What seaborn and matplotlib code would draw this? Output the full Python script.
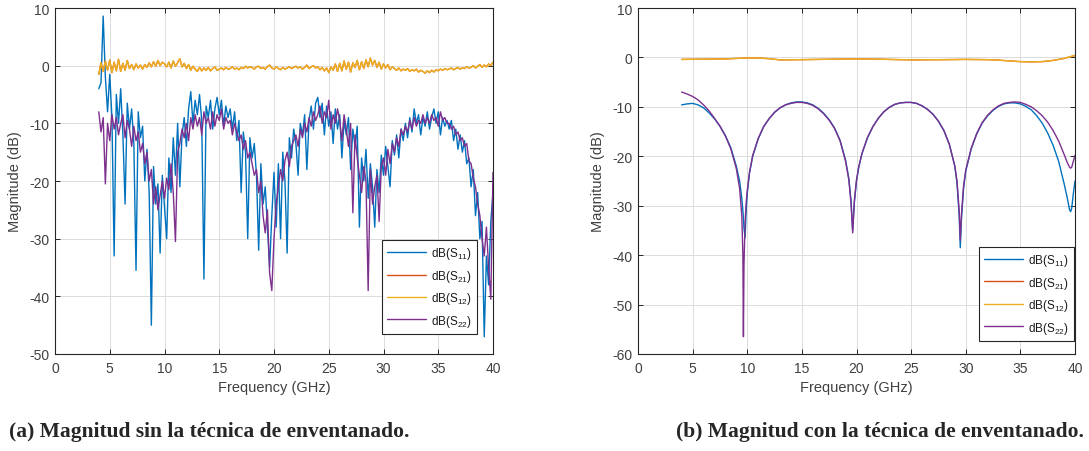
import numpy as np
import pandas as pd
import matplotlib
matplotlib.use("Agg")
import matplotlib.pyplot as plt
import seaborn as sns

# ---------------- data: left panel (without windowing) ----------------
freq_left = np.round(np.linspace(4.0, 40.0, 181), 2)  # 0.2 GHz sampling grid

s11_left = [
    -4.0, -3.0, 8.6, -2.0, -8.0, -1.5, -9.0, -33.0, -5.0, -10.0,
    -4.0, -12.0, -24.0, -6.5, -11.0, -7.5, -13.5, -35.5, -8.0, -12.5,
    -10.5, -20.0, -14.5, -22.0, -45.0, -17.5, -24.0, -20.5, -32.5, -19.0,
    -24.5, -30.0, -16.0, -22.0, -12.5, -19.0, -10.0, -21.0, -12.0, -9.0,
    -14.0, -7.5, -4.5, -10.0, -6.0, -8.5, -5.0, -9.5, -37.0, -7.0,
    -9.0, -6.0, -11.0, -7.5, -5.5, -8.5, -6.0, -10.5, -7.0, -9.0,
    -7.5, -11.0, -8.0, -13.0, -9.5, -22.0, -11.5, -15.0, -30.0, -12.5,
    -16.0, -13.5, -19.0, -32.0, -17.0, -24.0, -21.0, -28.0, -35.0, -26.0,
    -18.5, -28.0, -17.0, -30.0, -15.0, -20.0, -32.5, -12.5, -16.0, -11.0,
    -13.5, -19.0, -10.0, -12.0, -8.5, -18.0, -9.5, -7.0, -11.0, -6.5,
    -5.5, -9.0, -6.5, -12.0, -7.0, -10.5, -8.0, -13.5, -7.5, -11.0,
    -8.5, -16.0, -9.5, -12.0, -9.0, -18.0, -11.0, -14.0, -10.5, -28.0,
    -16.0, -20.0, -14.5, -23.0, -17.0, -21.0, -28.0, -18.0, -22.0, -15.5,
    -19.0, -14.0, -17.5, -21.0, -13.0, -15.5, -12.0, -16.0, -11.0, -13.0,
    -10.0, -12.5, -9.0, -11.5, -7.5, -10.0, -8.5, -12.0, -9.0, -10.5,
    -8.0, -11.0, -9.0, -7.5, -10.0, -8.0, -12.0, -9.0, -10.5, -9.5,
    -11.0, -9.5, -13.0, -11.0, -14.5, -12.0, -15.0, -13.0, -17.0, -16.0,
    -21.0, -18.0, -26.0, -22.0, -30.0, -27.0, -47.0, -33.0, -38.0, -27.0,
    -22.0,
]

s22_left = [
    -8.0, -11.5, -9.0, -20.5, -10.0, -13.0, -8.5, -11.0, -9.0, -12.0,
    -10.0, -8.5, -12.5, -9.5, -11.0, -14.0, -10.5, -13.0, -11.5, -15.0,
    -13.5, -17.0, -15.0, -20.0, -18.0, -24.0, -21.0, -25.0, -22.5, -20.0,
    -23.0, -19.5, -21.5, -17.0, -22.0, -30.5, -15.0, -13.5, -11.0, -12.5,
    -10.0, -13.0, -9.0, -11.0, -8.5, -10.5, -9.0, -12.0, -8.0, -10.0,
    -9.0, -11.0, -8.0, -10.5, -8.5, -9.5, -7.5, -11.0, -9.0, -10.0,
    -9.5, -12.0, -10.0, -11.5, -13.0, -12.0, -14.5, -13.0, -16.0, -15.0,
    -17.0, -19.0, -18.0, -22.0, -20.0, -26.0, -29.0, -25.0, -36.0, -39.0,
    -30.0, -24.0, -21.0, -18.0, -20.0, -16.5, -15.0, -17.5, -14.0, -13.0,
    -12.0, -14.0, -11.0, -12.5, -10.0, -11.5, -9.0, -10.5, -8.0, -9.5,
    -8.5, -7.0, -10.0, -8.0, -9.0, -6.0, -11.0, -8.5, -10.0, -7.5,
    -9.5, -13.0, -8.5, -11.0, -14.0, -10.0, -25.5, -12.0, -16.0, -19.0,
    -22.0, -17.5, -20.0, -39.0, -18.0, -24.0, -21.0, -19.0, -27.0, -17.5,
    -16.0, -19.0, -14.5, -17.0, -13.5, -15.0, -12.5, -14.0, -11.0, -12.0,
    -10.5, -11.5, -9.5, -11.0, -9.0, -10.5, -9.5, -10.0, -8.5, -10.0,
    -9.0, -10.0, -8.5, -9.5, -9.0, -10.5, -8.0, -9.5, -9.0, -10.0,
    -10.0, -11.0, -10.5, -12.0, -11.5, -13.0, -12.5, -14.0, -13.5, -16.5,
    -17.0, -19.5, -21.0, -24.0, -26.0, -30.0, -33.0, -28.0, -35.0, -40.5,
    -18.5,
]

s12_left = [
    -1.5, 0.5, -1.0, 0.8, -0.8, 1.0, -1.2, 0.6, -0.9, 1.1,
    -1.0, 0.4, -0.8, 0.9, -0.5, 0.2, -0.7, 0.3, -0.4, 0.1,
    -0.6, 0.2, -0.3, 0.5, -0.2, 0.7, -0.1, 0.9, 0.0, 0.6,
    0.3, -0.2, 0.6, -0.4, 0.8, -0.1, 0.5, 1.2, -0.2, 0.4,
    -0.5, 0.2, -0.8, -0.1, -0.6, -1.0, -0.3, -0.9, -0.4, -0.8,
    -0.3, -0.9, -0.5, -0.2, -0.8, -0.6, -0.4, -0.7, -0.3, -0.6,
    -0.5, -0.2, -0.6, -0.4, -0.7, -0.3, -0.5, -0.1, -0.4, -0.2,
    -0.3, -0.6, -0.2, -0.1, -0.5, -0.3, -0.6, -0.2, 0.1, -0.4,
    -0.6, -0.2, -0.5, -0.7, -0.3, -0.6, -0.4, -0.2, -0.5, -0.3,
    -0.1, -0.4, -0.2, -0.6, -0.3, 0.1, -0.5, -0.2, 0.0, -0.4,
    -0.2, -0.7, -0.3, -0.9, -0.4, -1.2, -0.2, -0.8, 0.3, -1.0,
    0.4, -0.9, 0.8, -0.6, 0.6, -1.1, 0.5, -0.3, 0.9, -0.7,
    0.7, -0.5, 1.0, -0.2, 1.3, 0.1, 0.9, -0.3, 0.6, -0.6,
    0.3, -0.4, 0.2, -0.7, -0.2, -0.5, -0.8, -0.4, -0.9, -0.6,
    -0.8, -0.5, -1.0, -0.7, -0.9, -0.6, -1.1, -0.8, -1.0, -1.3,
    -0.9, -1.2, -0.8, -1.1, -0.7, -0.9, -0.6, -0.8, -0.5, -0.7,
    -0.6, -0.4, -0.7, -0.5, -0.3, -0.6, -0.4, -0.5, -0.2, -0.4,
    -0.3, 0.0, -0.4, -0.1, 0.2, -0.3, 0.1, -0.2, 0.3, 0.0,
    0.6,
]
s21_left = list(s12_left)  # reciprocal network: S21 lies under S12

# ---------------- data: right panel (with windowing) ----------------
freq_right = [
    4, 4.5, 5, 5.5, 6, 6.5, 7, 7.5, 8, 8.5,
    9, 9.3, 9.5, 9.6, 9.65, 9.7, 9.8, 9.9, 10, 10.2,
    10.5, 11, 11.5, 12, 12.5, 13, 13.5, 14, 14.5, 15,
    15.5, 16, 16.5, 17, 17.5, 18, 18.5, 19, 19.3, 19.5,
    19.65, 19.8, 20, 20.2, 20.5, 21, 21.5, 22, 22.5, 23,
    23.5, 24, 24.5, 25, 25.5, 26, 26.5, 27, 27.5, 28,
    28.5, 29, 29.2, 29.4, 29.5, 29.6, 29.8, 30, 30.5, 31,
    31.5, 32, 32.5, 33, 33.5, 34, 34.5, 35, 35.5, 36,
    36.5, 37, 37.5, 38, 38.5, 39, 39.3, 39.5, 39.6, 39.7,
    39.85, 40,
]
s11_right = [
    -9.6, -9.4, -9.3, -9.6, -10.2, -11.2, -12.4, -13.9, -15.8, -18.3,
    -22.0, -25.0, -28.5, -31.0, -32.5, -34.5, -36.5, -31.0, -27.5, -23.5,
    -20.0, -16.5, -14.0, -12.4, -11.1, -10.2, -9.6, -9.2, -9.0, -9.0,
    -9.2, -9.6, -10.3, -11.3, -12.6, -14.3, -16.8, -20.8, -24.5, -29.0,
    -35.0, -29.5, -25.0, -22.3, -19.5, -16.3, -14.0, -12.3, -11.0, -10.1,
    -9.5, -9.2, -9.1, -9.1, -9.3, -9.8, -10.5, -11.5, -12.9, -14.8,
    -17.6, -22.0, -25.5, -32.0, -38.5, -33.0, -26.5, -23.0, -18.5, -15.5,
    -13.3, -11.8, -10.7, -9.9, -9.4, -9.2, -9.2, -9.4, -9.9, -10.6,
    -11.8, -13.3, -15.3, -17.8, -21.0, -25.5, -28.5, -30.8, -31.2, -30.5,
    -27.5, -25.0,
]
s22_right = [
    -7.0, -7.4, -7.9, -8.6, -9.6, -10.8, -12.3, -13.9, -15.9, -18.5,
    -22.5, -26.5, -32.0, -40.0, -56.5, -42.0, -33.5, -29.5, -27.0, -23.3,
    -19.8, -16.4, -14.0, -12.4, -11.1, -10.2, -9.6, -9.3, -9.1, -9.1,
    -9.3, -9.7, -10.4, -11.4, -12.7, -14.4, -16.9, -21.0, -24.8, -29.5,
    -35.5, -29.0, -24.8, -22.2, -19.4, -16.2, -14.0, -12.3, -11.0, -10.1,
    -9.5, -9.2, -9.1, -9.1, -9.3, -9.8, -10.5, -11.5, -12.9, -14.8,
    -17.6, -22.0, -25.0, -31.0, -37.0, -32.0, -26.0, -22.8, -18.4, -15.4,
    -13.2, -11.7, -10.6, -9.8, -9.3, -9.1, -9.0, -9.1, -9.5, -10.0,
    -10.8, -11.8, -13.1, -14.8, -16.9, -19.6, -21.3, -22.2, -22.4, -22.2,
    -21.0, -19.8,
]
freq_right_t = [4, 6, 8, 10, 11, 12, 13, 15, 18, 20, 22, 25, 28, 30, 32, 33, 34, 35, 36, 37, 38, 39, 40]
s12_right = [-0.4, -0.35, -0.3, -0.1, -0.1, -0.25, -0.5, -0.45, -0.35, -0.3, -0.35, -0.5,
             -0.45, -0.4, -0.45, -0.55, -0.7, -0.85, -0.9, -0.85, -0.6, -0.2, 0.4]
s21_right = list(s12_right)

labels = ["dB(S$_{11}$)", "dB(S$_{21}$)", "dB(S$_{12}$)", "dB(S$_{22}$)"]
colors = ["#0072BD", "#D95319", "#EDB120", "#7E2F8E"]
captions = ["(a) Magnitud sin la técnica de enventanado.",
            "(b) Magnitud con la técnica de enventanado."]


def long_frame(parts):
    frames = []
    for lab, x, y in parts:
        frames.append(pd.DataFrame({"freq": x, "mag": y, "series": lab}))
    return pd.concat(frames, ignore_index=True)


df_left = long_frame([
    (labels[0], freq_left, s11_left),
    (labels[1], freq_left, s21_left),
    (labels[2], freq_left, s12_left),
    (labels[3], freq_left, s22_left),
])
df_right = long_frame([
    (labels[0], freq_right, s11_right),
    (labels[1], freq_right_t, s21_right),
    (labels[2], freq_right_t, s12_right),
    (labels[3], freq_right, s22_right),
])

# ---------------- style ----------------
sns.set_theme(style="ticks")
plt.rcParams["font.family"] = ["Liberation Sans", "DejaVu Sans"]
plt.rcParams["mathtext.default"] = "regular"
plt.rcParams["axes.unicode_minus"] = False

fig = plt.figure(figsize=(10.89, 4.52), dpi=100)
fig.patch.set_facecolor("white")
ax1 = fig.add_axes([55 / 1089, 97 / 452, 438 / 1089, 346 / 452])
ax2 = fig.add_axes([638 / 1089, 97 / 452, 437 / 1089, 346 / 452])

palette = dict(zip(labels, colors))
panels = [
    (ax1, df_left, (-50, 10), (0.9635, 0.058)),
    (ax2, df_right, (-60, 10), (0.998, 0.038)),
]

for ax, df, ylim, legpos in panels:
    sns.lineplot(data=df, x="freq", y="mag", hue="series", hue_order=labels,
                 palette=palette, estimator=None, sort=False, linewidth=1.0,
                 ax=ax, legend=True)
    ax.set_xlim(0, 40)
    ax.set_ylim(*ylim)
    ax.set_xticks(np.arange(0, 41, 5))
    ax.set_yticks(np.arange(ylim[0], ylim[1] + 1, 10))
    ax.grid(True, color="#dcdcdc", linewidth=0.7)
    ax.set_axisbelow(True)
    for sp in ax.spines.values():
        sp.set_visible(True)
        sp.set_color("#262626")
        sp.set_linewidth(0.8)
    ax.tick_params(direction="in", length=3.5, width=0.7, color="#262626",
                   labelsize=10, labelcolor="#404040", top=True, right=True,
                   labeltop=False, labelright=False)
    ax.tick_params(axis="x", pad=5)
    ax.tick_params(axis="y", pad=4)
    ax.set_xlabel("Frequency (GHz)", fontsize=10.5, color="#404040")
    ax.set_ylabel("Magnitude (dB)", fontsize=10.5, color="#404040")
    ax.xaxis.set_label_coords(0.5, -0.075)
    ax.yaxis.set_label_coords(-0.075, 0.5)
    handles, labs = ax.get_legend_handles_labels()
    leg = ax.legend(handles, labs, loc="lower right", bbox_to_anchor=legpos,
                    borderaxespad=0, fontsize=8.5, handlelength=3.3,
                    handletextpad=0.4, labelspacing=0.55, borderpad=0.45,
                    fancybox=False, framealpha=1, edgecolor="#262626")
    leg.get_frame().set_linewidth(0.8)
    for t in leg.get_texts():
        t.set_color("#1a1a1a")

fig.text(9 / 1089, 1 - 432 / 452, captions[0], ha="left", va="center",
         family=["Liberation Serif", "DejaVu Serif"], weight="bold", size=15.5)
fig.text(1084 / 1089, 1 - 432 / 452, captions[1], ha="right", va="center",
         family=["Liberation Serif", "DejaVu Serif"], weight="bold", size=15.5)

fig.savefig("out.png", dpi=100, facecolor="white")
